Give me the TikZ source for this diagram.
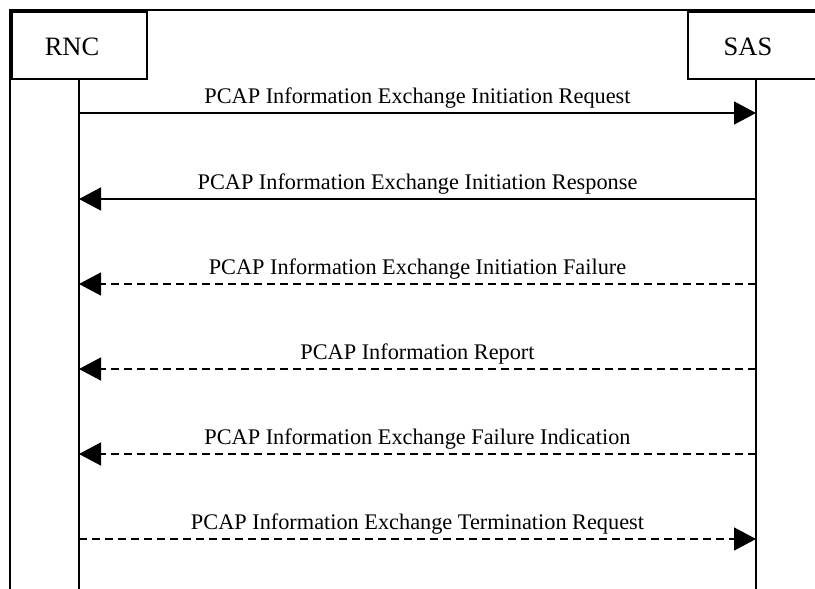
\documentclass[tikz,border=0pt]{standalone}
\usepackage{fontspec}
\setmainfont{Liberation Serif}
\usetikzlibrary{arrows.meta}
\begin{document}
\begin{tikzpicture}[x=1pt,y=-1pt,
  ent/.style={draw,line width=1.4pt,inner sep=0pt},
  life/.style={line width=1.4pt},
  msg/.style={line width=1.5pt,-{Triangle[length=22pt,width=23pt]}},
  dsh/.style={dash pattern=on 8pt off 5pt},
  elbl/.style={anchor=base,font=\fontsize{26.5}{30}\selectfont,inner sep=0pt},
  lbl/.style={anchor=base,font=\fontsize{22.3}{26}\selectfont,inner sep=0pt}]
\useasboundingbox (0,0) rectangle (815,589);
\clip (0,0) rectangle (815,589);
\draw[line width=2.5pt] (10,600) -- (10,10) -- (830,10);
\draw[ent] (12,12) rectangle (147,79);
\draw[ent] (688,12) rectangle (840,79);
\node[elbl] (rnc) at (72,55) {RNC};
\node[elbl] (sas) at (748,55) {SAS};
\coordinate (rt) at (79,79);
\coordinate (st) at (756,79);
\coordinate (rb) at (79,600);
\coordinate (sb) at (756,600);
\draw[life] (rt) -- (rb);
\draw[life] (st) -- (sb);
\foreach \y/\n in {113/1,199/2,284/3,369/4,454/5,539/6}{
  \coordinate (r\n) at (79,\y);
  \coordinate (s\n) at (756,\y);
}
\draw[msg] (r1) -- (s1) node[lbl,midway,yshift=10pt] (m1) {PCAP Information Exchange Initiation Request};
\draw[msg] (s2) -- (r2) node[lbl,midway,yshift=10pt] (m2) {PCAP Information Exchange Initiation Response};
\draw[msg,dsh] (s3) -- (r3) node[lbl,midway,yshift=10pt] (m3) {PCAP Information Exchange Initiation Failure};
\draw[msg,dsh] (s4) -- (r4) node[lbl,midway,yshift=10pt] (m4) {PCAP Information Report};
\draw[msg,dsh] (s5) -- (r5) node[lbl,midway,yshift=10pt] (m5) {PCAP Information Exchange Failure Indication};
\draw[msg,dsh] (r6) -- (s6) node[lbl,midway,yshift=10pt] (m6) {PCAP Information Exchange Termination Request};
\end{tikzpicture}
\end{document}
